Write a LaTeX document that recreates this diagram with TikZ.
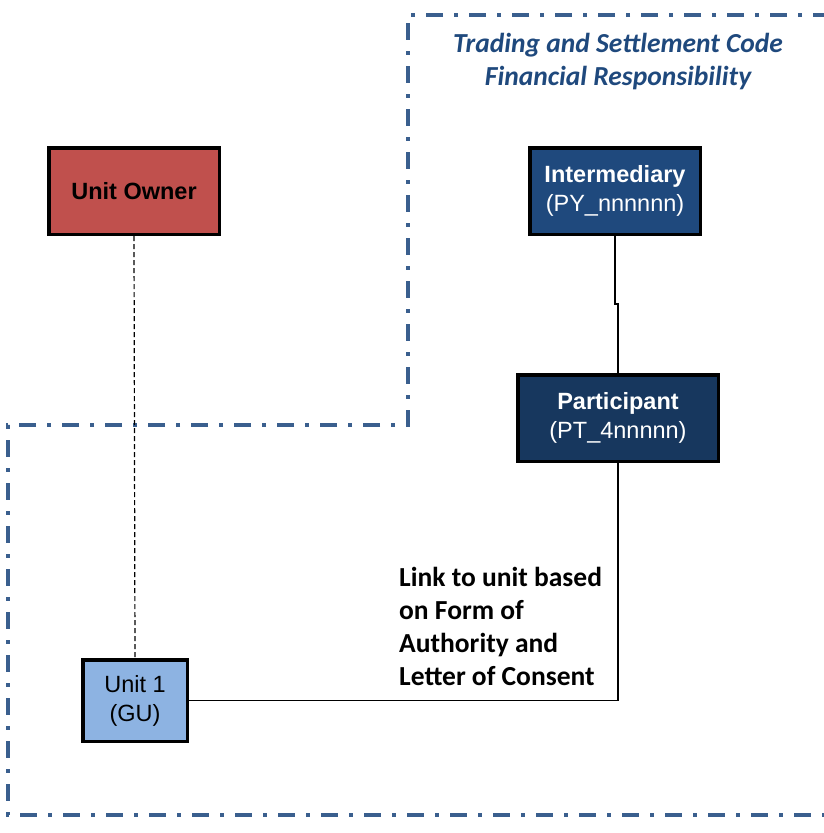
\documentclass[tikz,border=0pt]{standalone}
\usepackage{fontspec}
\setmainfont{Liberation Sans}
\newfontfamily\calibrifont{Carlito}
\begin{document}
\begin{tikzpicture}[x=1pt,y=-1pt,
  box/.style={draw=black,line width=3.5pt,inner sep=0pt,align=center,
    font=\fontsize{23.5}{29}\selectfont},
  link/.style={draw=black,line width=1.2pt},
  ownerlink/.style={draw=black,line width=1.2pt,dash pattern=on 5pt off 3pt},
  zone/.style={draw=zoneblue,line width=4pt,dash pattern=on 17pt off 11pt on 4pt off 11pt},
  note/.style={inner sep=0pt,font=\calibrifont\bfseries\fontsize{27.5}{33}\selectfont}]
\definecolor{zoneblue}{HTML}{3A5F8E}
\definecolor{titleblue}{HTML}{1F497D}
\definecolor{ownerred}{HTML}{C0504D}
\definecolor{interblue}{HTML}{1F497D}
\definecolor{partblue}{HTML}{17375E}
\definecolor{unitblue}{HTML}{8DB3E2}
\useasboundingbox (0,0) rectangle (823,833);

% boundary of the Trading and Settlement Code zone
\draw[zone] (830,15) -- (408,15) -- (408,425) -- (8,425) -- (8,815) -- (830,815);
\node[note,align=center,text=titleblue,font=\calibrifont\bfseries\itshape\fontsize{27.5}{33}\selectfont]
  (title) at (618,62) {Trading and Settlement Code\\Financial Responsibility};

% parties
\node[box,fill=ownerred,minimum width=170.5pt,minimum height=86.5pt] (owner) at (134,191) {\textbf{Unit Owner}};
\node[box,fill=interblue,text=white,minimum width=170.5pt,minimum height=86.5pt] (inter) at (615,191) {\textbf{Intermediary}\\(PY\_nnnnnn)};
\node[box,fill=partblue,text=white,minimum width=200.5pt,minimum height=86.5pt] (part) at (618,418) {\textbf{Participant}\\(PT\_4nnnnn)};
\node[box,fill=unitblue,minimum width=104.5pt,minimum height=81.5pt] (unit) at (135,700.5) {Unit 1\\(GU)};

% connectors
\draw[ownerlink] (owner.south) -- (unit.north);
\draw[link] (inter.south) -- ++(0,68) -| (part.north);
\draw[link] (part.south) |- (unit.east);

\node[note,align=left,anchor=north west] (consent) at (399,567)
  {Link to unit based\\on Form of\\Authority and\\Letter of Consent};
\end{tikzpicture}
\end{document}
